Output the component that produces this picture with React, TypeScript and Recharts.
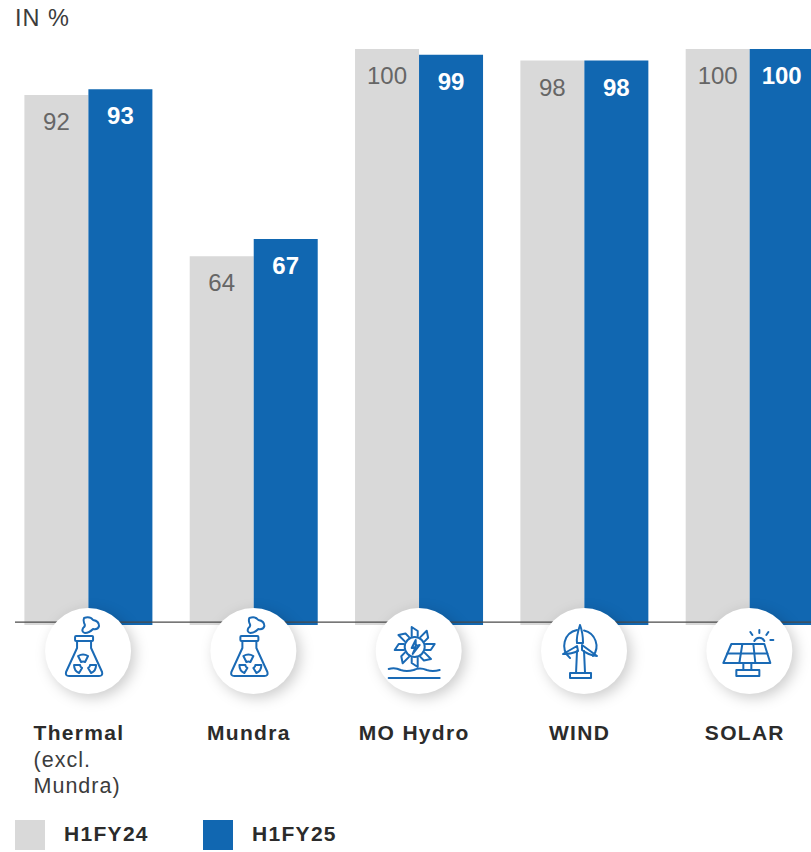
import { ComposedChart, Bar, Line, XAxis, YAxis, LabelList, Legend, ReferenceLine } from 'recharts';

const categories = ['Thermal', 'Mundra', 'MO Hydro', 'WIND', 'SOLAR'];
const subLabels = [['(excl.', 'Mundra)'], [], [], [], []];
const h1fy24 = [92, 64, 100, 98, 100];
const h1fy25 = [93, 67, 99, 98, 100];
const badgeAnchor = [0, 0, 0, 0, 0];
const icons = ['flask', 'flask', 'hydro', 'wind', 'solar'];
const bladeAngles = [0, 45, 90, 135, 180, 225, 270, 315];

const chartData = categories.map((name, i) => ({
  name,
  sub: subLabels[i],
  icon: icons[i],
  H1FY24: h1fy24[i],
  H1FY25: h1fy25[i],
  anchor: badgeAnchor[i],
}));

const GREY = '#d9d9d9';
const BLUE = '#1167b1';
const ICON = '#1a6ab5';
const FONT = '"Liberation Sans", Arial, sans-serif';

const FlaskIcon = () => (
  <g>
    <rect x={-13} y={-15} width={18} height={5} rx={1} />
    <path d="M-11,-10 L-11,-3 L-22,21 Q-23,25 -19,25 L11,25 Q15,25 14,21 L3,-3 L3,-10" />
    <path d="M-4,-33 Q2,-35 5,-31 Q11,-30 11,-25 Q10,-21 5,-22 Q1,-18 -3,-18 Q-7,-19 -5,-23 Q-2,-25 -4,-28 Q-5,-31 -4,-33 Z" />
    <path d="M-10,5 Q-5,2 0,5 L-3,11 Q-5,10 -7,11 Z" />
    <path d="M-14,14 L-8,14 Q-8,16 -6,17 L-9,22 Q-14,20 -14,14 Z" />
    <path d="M3,22 L0,17 Q2,16 2,14 L8,14 Q8,20 3,22 Z" />
  </g>
);

const HydroIcon = () => (
  <g>
    <circle cx={-4} cy={-4} r={10} />
    <path d="M-3,-11 L-7,-3 L-3,-4 L-6,3 L1,-6 L-3,-5 Z" />
    {bladeAngles.map((a) => (
      <path key={a} transform={`rotate(${a} -4 -4)`} d="M-7,-15 L-7,-24 L-1,-20 L-1,-15" />
    ))}
    <path d="M-30,18 Q-24,16 -18,19 Q-12,21 -5,19 Q1,16 8,19 Q14,21 21,19" />
    <path d="M-30,27 L21,27" />
  </g>
);

const WindIcon = () => (
  <g>
    <path d="M-7,-21 A16,16 0 0 0 -14,7" />
    <path d="M0,-20.5 A16,16 0 0 1 9,5" />
    <path d="M-4,-26 Q-8,-14 -7,-8 L-1,-8 Q-1,-18 -4,-26 Z" />
    <path d="M-2,-6 L13,5 Q4,4 -2,-1 Z" />
    <path d="M-7,-5 L-21,3 Q-12,3 -6,0 Z" />
    <path d="M-7,0 L-8,22 M0,0 L1,22" />
    <path d="M-14,22 L7,22 L7,27 L-14,27 Z" />
  </g>
);

const SolarIcon = () => (
  <g>
    <path d="M-18,-7 L15,-7 L21,12 L-26,12 Z" />
    <path d="M-22,2.5 L18,2.5" />
    <path d="M-7,-7 L-10,12 M4,-7 L6,12" />
    <path d="M-6,12 L-6,19 M2,12 L2,19" />
    <path d="M-13,19 L10,19 L10,25 L-13,25 Z" />
    <path d="M5,-10 A5.5,5.5 0 0 1 15,-10" />
    <path d="M10,-21 L10,-18 M1,-19 L3,-16 M19,-19 L17,-16 M21,-11 L24,-11" />
  </g>
);

const iconMap: Record<string, () => any> = {
  flask: FlaskIcon,
  hydro: HydroIcon,
  wind: WindIcon,
  solar: SolarIcon,
};

// white disc with the category pictogram, hung under each group of bars
const Badge = ({ cx, cy, payload }: any) => {
  const Icon = iconMap[payload.icon];
  return (
    <g key={payload.name} transform={`translate(${cx},${cy + 26})`}>
      <circle r={43} fill="#fff" style={{ filter: 'drop-shadow(4px 4px 7px rgba(0,0,0,0.2))' }} />
      <g fill="none" stroke={ICON} strokeWidth={2} strokeLinejoin="round" strokeLinecap="round">
        <Icon />
      </g>
    </g>
  );
};

const CategoryTick = ({ x, payload, index }: any) => {
  const sub = subLabels[index] ?? [];
  const first = index === 0;
  const tx = first ? x - 54.5 : x - 4.5;
  return (
    <g>
      <text
        x={tx}
        y={740}
        textAnchor={first ? 'start' : 'middle'}
        fontFamily={FONT}
        fontSize={21}
        fontWeight={700}
        letterSpacing={1.3}
        fill="#2b2b2b"
      >
        {payload.value}
      </text>
      {sub.map((line: string, i: number) => (
        <text key={line} x={tx} y={767 + i * 26} fontFamily={FONT} fontSize={21.5} letterSpacing={1} fill="#3c3c3c">
          {line}
        </text>
      ))}
    </g>
  );
};

const BaselineShape = ({ y1, y }: any) => {
  const yy = y1 ?? y ?? 622;
  return <line x1={15} x2={811} y1={yy} y2={yy} stroke="#4a4a4a" strokeWidth={1.2} />;
};

const LegendRow = ({ payload }: any) => (
  <div style={{ position: 'relative', height: 30, width: 811 }}>
    {(payload ?? [])
      .filter((entry: any) => entry.dataKey !== 'anchor')
      .map((entry: any, i: number) => (
        <div key={entry.value} style={{ position: 'absolute', left: i === 0 ? 15 : 203, top: 0, display: 'flex', alignItems: 'center' }}>
          <div style={{ width: 30, height: 30, background: entry.color }} />
          <span
            style={{
              marginLeft: 19,
              fontFamily: FONT,
              fontSize: 21,
              fontWeight: 700,
              letterSpacing: 1.3,
              color: '#2b2b2b',
              position: 'relative',
              top: -1,
            }}
          >
            {entry.value}
          </span>
        </div>
      ))}
  </div>
);

export default function App() {
  return (
    <div style={{ position: 'absolute', left: 0, top: 0, width: 811, height: 852, overflow: 'hidden', background: '#fff' }}>
      <div style={{ position: 'absolute', left: 15, top: 5, fontFamily: FONT, fontSize: 23.5, letterSpacing: 1, color: '#3c3c3c', lineHeight: '26px' }}>
        IN %
      </div>
      <ComposedChart
        width={832}
        height={852}
        data={chartData}
        margin={{ top: 49, right: 0, left: 5.4, bottom: 0 }}
        barCategoryGap={19}
        barGap={0}
      >
        <XAxis dataKey="name" height={197} axisLine={false} tickLine={false} interval={0} tick={<CategoryTick />} />
        <YAxis hide domain={[0, 100]} />
        <Bar dataKey="H1FY24" fill={GREY} isAnimationActive={false}>
          <LabelList dataKey="H1FY24" position="insideTop" offset={18} fill="#666666" fontSize={24} fontFamily={FONT} />
        </Bar>
        <Bar dataKey="H1FY25" fill={BLUE} isAnimationActive={false}>
          <LabelList dataKey="H1FY25" position="insideTop" offset={18} fill="#ffffff" fontSize={24} fontWeight={700} fontFamily={FONT} />
        </Bar>
        <ReferenceLine y={0.5} shape={<BaselineShape />} />
        <Line dataKey="anchor" stroke="none" legendType="none" isAnimationActive={false} dot={<Badge />} activeDot={false} />
        <Legend
          content={<LegendRow />}
          wrapperStyle={{ position: 'absolute', left: 0, top: 820, bottom: 'auto', width: 811, height: 30 }}
        />
      </ComposedChart>
    </div>
  );
}
